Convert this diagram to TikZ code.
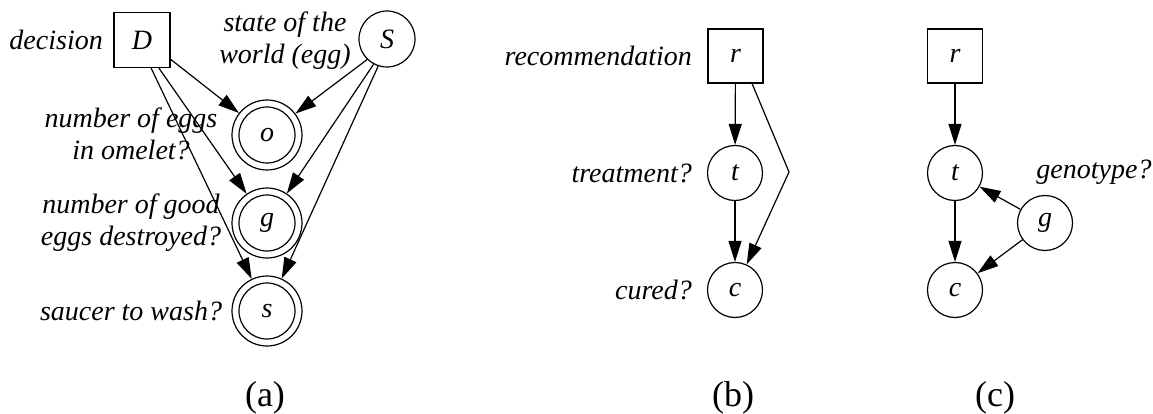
\documentclass[tikz,border=0pt]{standalone}
\usepackage{fontspec}
\setmainfont{Liberation Serif}
\usetikzlibrary{arrows.meta}
\begin{document}
\begin{tikzpicture}[x=1pt,y=-1pt,
  every node/.style={font=\fontsize{28}{32}\selectfont\itshape},
  lbl/.style={inner sep=0pt, align=center},
  box/.style={draw, line width=1.2pt, minimum width=56pt, minimum height=55pt, inner sep=0pt},
  circ/.style={draw, circle, line width=1.2pt, minimum size=55pt, inner sep=0pt},
  dcirc/.style={draw, circle, line width=1.2pt, minimum size=70pt, inner sep=0pt},
  arr/.style={line width=1.2pt, -{Triangle[length=21pt,width=13pt]}},
  captxt/.style={font=\fontsize{36}{40}\selectfont\upshape, inner sep=0pt}]
\useasboundingbox (0,0) rectangle (1153,414);
% ---------- (a)
\node[box] (D) at (142,40) {D};
\node[circ, minimum size=56pt] (S) at (387,39) {S};
\node[dcirc] (o) at (267,135) {o};
\node[dcirc] (g) at (267,223) {g};
\node[dcirc] (s) at (267,311) {s};
\draw[line width=1.2pt] (o.center) circle (28);
\draw[line width=1.2pt] (g.center) circle (28);
\draw[line width=1.2pt] (s.center) circle (28);
\node[lbl, anchor=east] (ldec) at (103,40) {decision};
\node[lbl] (lst) at (285,41) {state of the\\world (egg)};
\node[lbl] (lo) at (131,134) {number of eggs\\in omelet?};
\node[lbl] (lg) at (131,223) {number of good\\eggs destroyed?};
\node[lbl] (ls) at (131,311) {saucer to wash?};
\draw[arr] (D.-34) -- (o);
\draw[arr] (D.-59) -- (g);
\draw[arr] (D.-72) -- (s);
\draw[arr] (S.-134) -- (o);
\draw[arr] (S.-118) -- (g);
\draw[arr] (S.-108) -- (s);
\node[captxt] (capa) at (265,398) {(a)};
% ---------- (b)
\node[box, minimum width=55pt, minimum height=54pt] (rb) at (735.5,56) {r};
\node[circ] (tb) at (735,173) {t};
\node[circ] (cb) at (735,290) {c};
\node[lbl, anchor=east] (lrec) at (692,56) {recommendation};
\node[lbl, anchor=east] (ltr) at (692,173) {treatment?};
\node[lbl, anchor=east] (lcu) at (692,290) {cured?};
\coordinate (bend) at (789,172);
\draw[arr] (rb) -- (tb);
\draw[arr] (tb) -- (cb);
\draw[arr] (rb.-59) -- (bend) -- (cb);
\node[captxt] (capb) at (733,398) {(b)};
% ---------- (c)
\node[box, minimum width=55pt, minimum height=54pt] (rc) at (955,56) {r};
\node[circ] (tc) at (955,173) {t};
\node[circ] (cc) at (955,290) {c};
\node[circ] (gc) at (1045,223) {g};
\node[lbl] (lgen) at (1094,172) {genotype?};
\draw[arr] (rc) -- (tc);
\draw[arr] (tc) -- (cc);
\draw[arr] (gc) -- (tc);
\draw[arr] (gc) -- (cc);
\node[captxt] (capc) at (995,398) {(c)};
\end{tikzpicture}
\end{document}
